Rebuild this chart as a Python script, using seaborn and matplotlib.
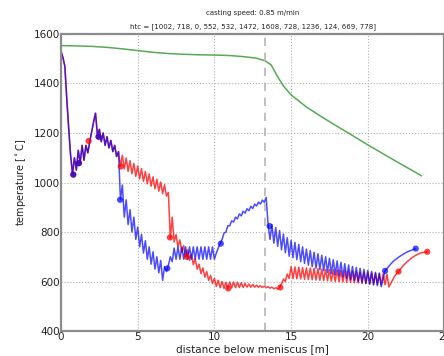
import numpy as np
import pandas as pd
import matplotlib
matplotlib.use("Agg")
import matplotlib.pyplot as plt
import seaborn as sns

# surface temperature sampled every 0.125 m along the strand
step = 0.125

# both faces share the first 3.75 m (mould + first zone)
shared_temp = [1530, 1505, 1470, 1340, 1220, 1110, 1035, 1100, 1050, 1130, 1080,
               1150, 1090, 1150, 1120, 1165, 1205, 1245, 1280, 1190, 1215,
               1165, 1200, 1150, 1185, 1140, 1170, 1125, 1150, 1105, 1125]

blue_rest = [930,
             990, 860, 930, 830, 890, 800, 860, 770, 820, 740, 790, 715,
             765, 690, 740, 670, 720, 650, 700, 635, 685, 605,
             660, 640, 665, 700, 680, 735, 690,
             740, 690, 740, 690, 740, 690, 740, 690, 740, 690,
             740, 690, 740, 690, 740, 690, 740, 690, 740, 690,
             715, 735, 752, 770,
             795, 800, 825, 825, 845, 840, 860, 853, 873, 865, 884, 876,
             894, 886, 904, 895, 913, 905, 921, 913, 929, 920, 940,
             830, 770,
             830, 755, 818, 742, 806, 728, 792, 716, 777, 702,
             766, 696, 758, 688, 750, 680, 740, 673, 731, 666,
             725, 660, 718, 654, 712, 648, 706, 643, 700, 637,
             694, 632, 688, 627, 683, 622, 678, 618, 672, 613,
             667, 608, 661, 604, 657, 600, 653, 596, 649, 592,
             645, 589, 641, 586, 637, 583, 634, 579,
             610, 643, 652, 662, 671, 679, 686, 692, 698, 703, 708, 713,
             717, 721, 724, 727, 730, 733]

red_rest = [1065,
            1110, 1055, 1099, 1045, 1088, 1035, 1077, 1025, 1067, 1015, 1056, 1005,
            1045, 995, 1034, 985, 1023, 975, 1013, 965, 1002, 955, 991, 945,
            960, 775, 860, 760,
            790, 740, 768, 718, 745, 700, 728, 685, 710, 668,
            692, 650, 670, 632, 655, 618, 640, 605, 625, 592,
            613, 580, 605, 575, 600, 572, 597, 572,
            598, 574, 598, 575, 597, 576, 595, 576, 592, 577,
            590, 577, 588, 577, 585, 577, 583, 576, 581, 575,
            579, 573, 577, 571, 575, 570, 576,
            590, 610, 600, 630, 612,
            660, 612, 659, 611, 658, 610, 656, 609, 655, 608,
            654, 607, 653, 606, 652, 605, 650, 604, 649, 603,
            648, 601, 647, 600, 646, 599, 644, 598, 643, 597,
            642, 596, 641, 595, 640, 594, 638, 593, 637, 592,
            636, 591, 635, 590, 633, 589, 632, 588, 631, 587,
            630, 578,
            592, 607, 622, 632, 640, 650, 660, 668, 676, 683,
            690, 696, 701, 706, 710, 713, 716, 718, 719, 720]

# core temperature
green_x = [0, 1, 2, 3, 4, 5, 6, 7, 8, 9, 10, 11, 12, 12.75, 13.3, 13.7, 14.1,
           14.5, 15, 16, 17, 18, 19, 20, 21, 22, 23, 23.5]
green_y = [1553, 1552, 1550, 1546, 1540, 1533, 1526, 1521, 1518, 1516, 1515,
           1513, 1508, 1502, 1492, 1475, 1430, 1390, 1354, 1305, 1265, 1227,
           1190, 1152, 1116, 1080, 1045, 1027]

# zone boundaries
blue_mx = [0.8, 1.17, 2.45, 3.85, 6.93, 10.42, 13.6, 21.125, 23.125]
blue_my = [1032, 1078, 1185, 930, 653, 753, 824, 643, 733]
red_mx = [0.8, 1.17, 1.8, 2.45, 3.9, 7.1, 8.2, 10.9, 14.3, 22.0, 23.875]
red_my = [1032, 1078, 1168, 1185, 1065, 778, 700, 572, 576, 640, 720]

unbending = 13.3
htc = [1002, 718, 0, 552, 532, 1472, 1608, 728, 1236, 124, 669, 778]

blue_temp = shared_temp + blue_rest
red_temp = shared_temp + red_rest
blue = pd.DataFrame({"dist": np.arange(len(blue_temp)) * step, "temp": blue_temp})
red = pd.DataFrame({"dist": np.arange(len(red_temp)) * step, "temp": red_temp})

sns.set_style("whitegrid", {"grid.linestyle": ":", "grid.color": "#b0b0b0",
                            "axes.edgecolor": "#8c8c8c"})
plt.rcParams["font.family"] = ["DejaVu Sans"]

fig = plt.figure(figsize=(4.44, 3.56), dpi=100)
ax = fig.add_axes([0.1374, 0.0702, 0.8637, 0.8343])

sns.lineplot(x=green_x, y=green_y, ax=ax, color="#3a9a3a", alpha=0.85,
             linewidth=1.1, estimator=None, sort=False)
sns.lineplot(data=red, x="dist", y="temp", ax=ax, color="red", alpha=0.75,
             linewidth=1.1, estimator=None, sort=False)
sns.lineplot(data=blue, x="dist", y="temp", ax=ax, color="blue", alpha=0.7,
             linewidth=1.1, estimator=None, sort=False)
sns.scatterplot(x=red_mx, y=red_my, ax=ax, color="red", alpha=0.75, s=20,
                edgecolor="none", zorder=3)
sns.scatterplot(x=blue_mx, y=blue_my, ax=ax, color="blue", alpha=0.7, s=20,
                edgecolor="none", zorder=3)
ax.axvline(unbending, color="#b5b5b5", linestyle="--", dashes=(5, 4), linewidth=1.2)

ax.set_xlim(0, 25)
ax.set_ylim(400, 1600)
ax.set_xticks([0, 5, 10, 15, 20, 25])
ax.set_yticks([400, 600, 800, 1000, 1200, 1400, 1600])
ax.grid(True, linewidth=0.8)
for s in ax.spines.values():
    s.set_linewidth(1.6)
ax.tick_params(labelsize=7.5, colors="#222222", length=0, pad=1)

ax.set_xlabel("distance below meniscus [m]", fontsize=7.5, labelpad=1, color="#222222")
ax.set_ylabel("temperature [$^\\circ$C]", fontsize=7, labelpad=4, color="#222222")
ax.set_title("htc = " + str(htc), fontsize=5, pad=4, color="#222222")
ax.text(0.5, 1.06, "casting speed: 0.85 m/min", fontsize=5, ha="center",
        va="bottom", transform=ax.transAxes, color="#222222")

fig.savefig("out.png", dpi=100)
